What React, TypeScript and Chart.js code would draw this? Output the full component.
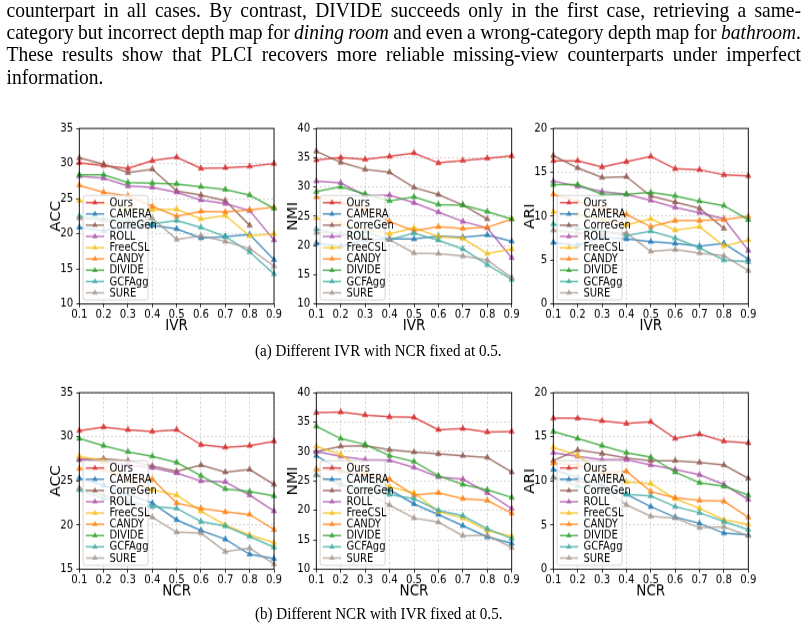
import React, { useEffect, useRef } from "react";
import { Chart, registerables } from "chart.js";

Chart.register(...registerables);

// The page is laid out in unstretched units and then scaled vertically as a whole.
const STRETCH = 1.115;

const RATIOS = ["0.1", "0.2", "0.3", "0.4", "0.5", "0.6", "0.7", "0.8", "0.9"];
const METHODS = ["Ours", "CAMERA", "CorreGen", "ROLL", "FreeCSL", "CANDY", "DIVIDE", "GCFAgg", "SURE"];
const COLORS = [
  "rgba(214,39,40,0.75)",
  "rgba(31,119,180,0.75)",
  "rgba(140,86,75,0.75)",
  "rgba(170,80,170,0.75)",
  "rgba(245,190,20,0.75)",
  "rgba(255,127,14,0.75)",
  "rgba(44,160,44,0.75)",
  "rgba(60,170,160,0.75)",
  "rgba(160,145,135,0.7)",
];

// Rows follow METHODS; columns follow RATIOS. null = no result.
const IVR_ACC = [
  [30.1, 29.7, 29.3, 30.4, 30.9, 29.3, 29.4, 29.6, 30.0],
  [20.9, 20.4, 21.0, 21.2, 20.7, 19.4, 19.6, 19.9, 16.3],
  [30.8, 29.9, 28.7, 29.2, 26.1, 25.5, 24.7, 21.2, null],
  [28.2, 27.9, 26.8, 26.6, 25.9, 24.8, 24.3, 23.3, 19.1],
  [24.7, 24.4, 23.5, 23.4, 23.5, 22.1, 22.6, 19.7, 20.0],
  [26.9, 25.9, 25.4, 23.9, 22.5, 23.2, 23.1, 23.4, 23.8],
  [28.4, 28.4, 27.3, 27.2, 27.1, 26.7, 26.3, 25.5, 23.6],
  [22.5, 22.1, 21.9, 21.4, 21.9, 20.9, 19.6, 17.4, 14.3],
  [22.2, 21.9, 21.5, 22.2, 19.2, 19.7, 18.9, 17.9, 15.4],
];
const IVR_NMI = [
  [34.6, 35.0, 34.7, 35.2, 35.8, 34.1, 34.5, 34.9, 35.3],
  [20.4, 19.9, 21.0, 21.1, 21.1, 21.6, 21.4, 21.8, 20.7],
  [36.1, 34.2, 33.0, 32.5, 29.9, 28.7, 26.9, 24.5, null],
  [31.0, 30.7, 28.5, 28.6, 27.3, 25.7, 24.1, 23.0, 17.9],
  [24.7, 23.8, 22.7, 22.0, 23.0, 21.5, 21.2, 18.6, 19.4],
  [28.3, 27.3, 26.3, 24.1, 22.5, 23.2, 22.9, 23.1, 24.5],
  [29.2, 30.0, 28.8, 27.6, 28.3, 27.0, 26.9, 25.8, 24.5],
  [22.8, 21.9, 22.4, 21.0, 22.1, 20.9, 19.4, 16.7, 14.2],
  [22.2, 22.0, 21.1, 21.0, 18.7, 18.6, 18.2, 17.5, 14.5],
];
const IVR_ARI = [
  [16.3, 16.3, 15.6, 16.2, 16.8, 15.4, 15.3, 14.7, 14.6],
  [7.0, 6.7, 7.6, 7.4, 7.1, 6.9, 6.6, 6.9, 5.1],
  [16.9, 15.5, 14.4, 14.5, 12.3, 11.6, 10.9, 8.6, null],
  [14.0, 13.4, 12.8, 12.5, 11.8, 11.0, 10.4, 9.7, 6.1],
  [10.5, 10.2, 9.6, 9.0, 9.7, 8.4, 8.8, 6.6, 7.3],
  [12.5, 11.7, 10.9, 10.2, 8.8, 9.5, 9.5, 9.6, 10.0],
  [13.6, 13.6, 12.5, 12.5, 12.7, 12.3, 11.7, 11.2, 9.6],
  [9.1, 8.6, 8.4, 7.8, 8.3, 7.5, 6.4, 5.0, 4.8],
  [8.4, 8.1, 8.0, 8.1, 6.0, 6.2, 5.8, 5.5, 3.8],
];
const NCR_ACC = [
  [30.7, 31.1, 30.8, 30.6, 30.8, 29.1, 28.8, 29.0, 29.5],
  [25.3, 24.5, 23.5, 22.5, 20.6, 19.4, 18.4, 16.7, 16.2],
  [27.4, 27.5, 27.3, 26.7, 26.1, 26.8, 26.0, 26.3, 24.6],
  [27.5, 27.2, 26.8, 26.5, 25.9, 25.0, 24.9, 23.4, 21.6],
  [27.8, 27.3, 25.0, 24.0, 23.4, 21.6, 20.0, 18.9, 18.0],
  [26.4, 26.3, 25.2, 25.2, 22.5, 21.9, 21.5, 21.2, 19.5],
  [29.8, 29.0, 28.3, 27.8, 27.1, 25.6, 24.1, 23.8, 23.3],
  [24.0, 23.0, 22.6, 22.1, 21.9, 20.4, 19.9, 18.7, 17.5],
  [24.2, 23.4, 22.4, 20.9, 19.2, 19.1, 17.0, 17.4, 15.6],
];
const NCR_NMI = [
  [36.6, 36.7, 36.2, 35.9, 35.8, 33.7, 33.9, 33.3, 33.4],
  [29.3, 26.8, 25.4, 23.5, 21.1, 19.3, 17.4, 15.5, 14.4],
  [30.0, 30.9, 31.0, 30.3, 29.9, 29.6, 29.3, 29.0, 26.5],
  [30.0, 29.2, 28.6, 28.5, 27.3, 25.7, 25.3, 23.0, 20.3],
  [30.9, 29.5, 26.6, 24.0, 23.0, 19.8, 18.7, 16.6, 15.6],
  [27.0, 26.7, 26.0, 25.3, 22.6, 23.0, 22.0, 21.7, 19.5],
  [34.3, 32.2, 31.2, 29.3, 28.3, 25.9, 24.4, 23.5, 22.2],
  [26.1, 24.3, 23.8, 22.7, 22.0, 20.0, 19.1, 16.9, 15.2],
  [26.0, 24.5, 23.0, 20.9, 18.7, 18.0, 15.7, 15.8, 13.7],
];
const NCR_ARI = [
  [17.1, 17.1, 16.8, 16.5, 16.7, 14.8, 15.3, 14.5, 14.3],
  [11.3, 10.4, 9.5, 8.5, 7.1, 5.9, 5.2, 4.1, 3.9],
  [12.3, 13.5, 13.1, 12.6, 12.3, 12.3, 12.1, 11.8, 10.3],
  [13.2, 12.8, 12.4, 12.4, 11.8, 11.3, 10.7, 9.6, 7.9],
  [13.8, 12.9, 11.0, 9.9, 9.7, 8.0, 6.9, 5.6, 5.1],
  [12.0, 11.8, 10.9, 11.1, 8.8, 8.1, 7.8, 7.7, 5.9],
  [15.6, 14.8, 14.0, 13.2, 12.7, 11.0, 9.8, 9.4, 8.4],
  [10.4, 9.4, 9.0, 8.5, 8.3, 7.1, 6.4, 5.4, 4.5],
  [10.4, 10.0, 9.2, 7.3, 6.0, 5.8, 4.7, 4.8, 3.8],
];

const SANS = "'DejaVu Sans', sans-serif";
const SERIF = "'Liberation Serif', 'Times New Roman', serif";

type PanelSpec = {
  rows: (number | null)[][];
  xTitle: string;
  yTitle: string;
  yMin: number;
  yMax: number;
  left: number;
  right: number;
  top: number;
  bottom: number;
};

const ROW_A = { top: 128, bottom: 304 };
const ROW_B = { top: 392, bottom: 569.3 };
const COLS = [
  { left: 79.3, right: 274 },
  { left: 316.3, right: 511.7 },
  { left: 553.3, right: 748.3 },
];

const PANELS: PanelSpec[] = [
  { rows: IVR_ACC, xTitle: "IVR", yTitle: "ACC", yMin: 10, yMax: 35, ...COLS[0], ...ROW_A },
  { rows: IVR_NMI, xTitle: "IVR", yTitle: "NMI", yMin: 10, yMax: 40, ...COLS[1], ...ROW_A },
  { rows: IVR_ARI, xTitle: "IVR", yTitle: "ARI", yMin: 0, yMax: 20, ...COLS[2], ...ROW_A },
  { rows: NCR_ACC, xTitle: "NCR", yTitle: "ACC", yMin: 15, yMax: 35, ...COLS[0], ...ROW_B },
  { rows: NCR_NMI, xTitle: "NCR", yTitle: "NMI", yMin: 10, yMax: 40, ...COLS[1], ...ROW_B },
  { rows: NCR_ARI, xTitle: "NCR", yTitle: "ARI", yMin: 0, yMax: 20, ...COLS[2], ...ROW_B },
];

const TICK_SIZE = 10.2;
const TITLE_SIZE = 13.5;
const KEY_SIZE = 10;

// Axes frame on all four sides plus a boxed key in the lower-left corner.
const frameAndKey = {
  id: "frameAndKey",
  afterDatasetsDraw(chart: any) {
    const { ctx, chartArea: a } = chart;
    ctx.save();

    const rowH = 10.1;
    const n = chart.data.datasets.length;
    const boxW = 65;
    const boxH = 6.5 * 2 + (n - 1) * rowH;
    const x0 = a.left + 3.8;
    const y0 = a.bottom - 3.6 - boxH;
    ctx.beginPath();
    ctx.roundRect(x0, y0, boxW, boxH, 2.5);
    ctx.fillStyle = "rgba(255,255,255,0.8)";
    ctx.fill();
    ctx.lineWidth = 0.8;
    ctx.strokeStyle = "#cccccc";
    ctx.stroke();

    ctx.font = `${KEY_SIZE}px ${SANS}`;
    ctx.textBaseline = "middle";
    chart.data.datasets.forEach((ds: any, i: number) => {
      const cy = y0 + 6.5 + i * rowH;
      ctx.strokeStyle = ds.borderColor;
      ctx.lineWidth = ds.borderWidth;
      ctx.beginPath();
      ctx.moveTo(x0 + 2.7, cy);
      ctx.lineTo(x0 + 21, cy);
      ctx.stroke();
      const mx = x0 + 11.85;
      const r = 3.2;
      ctx.beginPath();
      ctx.moveTo(mx, cy - r);
      ctx.lineTo(mx + r * Math.sin((2 * Math.PI) / 3), cy - r * Math.cos((2 * Math.PI) / 3));
      ctx.lineTo(mx + r * Math.sin((4 * Math.PI) / 3), cy - r * Math.cos((4 * Math.PI) / 3));
      ctx.closePath();
      ctx.fillStyle = ds.borderColor;
      ctx.fill();
      ctx.fillStyle = "#000";
      ctx.fillText(ds.label, x0 + 26.3, cy + 0.5);
    });

    ctx.strokeStyle = "#000";
    ctx.lineWidth = 0.9;
    ctx.strokeRect(a.left, a.top, a.right - a.left, a.bottom - a.top);
    ctx.restore();
  },
};

function LinePanel({ spec }: { spec: PanelSpec }) {
  const ref = useRef<HTMLCanvasElement>(null);

  const plotT = spec.top / STRETCH;
  const plotB = spec.bottom / STRETCH;
  const canvasLeft = Math.floor(spec.left - 40);
  const canvasTop = Math.floor(plotT - 8);
  const width = Math.ceil(spec.right + 14 - canvasLeft);
  const height = Math.ceil(plotB + 30 - canvasTop);
  const yw = spec.left - canvasLeft;
  const padTop = plotT - canvasTop;
  const padRight = width - (spec.right - canvasLeft);
  const xh = height - (plotB - canvasTop);
  const titleHalf = (TITLE_SIZE * 1.2) / 2;

  useEffect(() => {
    if (!ref.current) return;
    const tickFont = { family: SANS, size: TICK_SIZE };
    const titleFont = { family: SANS, size: TITLE_SIZE, lineHeight: 1.2 };
    const grid = {
      color: "rgba(170,170,170,0.6)",
      lineWidth: 0.8,
      tickColor: "#000",
      tickLength: 3,
      tickWidth: 0.8,
      tickBorderDash: [],
    };
    const chart = new Chart(ref.current, {
      type: "line",
      data: {
        labels: RATIOS,
        datasets: spec.rows.map((row, i) => ({
          label: METHODS[i],
          data: row,
          borderColor: COLORS[i],
          backgroundColor: COLORS[i],
          pointBackgroundColor: COLORS[i],
          pointBorderColor: COLORS[i],
          borderWidth: 1.5,
          pointStyle: "triangle",
          pointRadius: 3.2,
          pointBorderWidth: 0.6,
          tension: 0,
          spanGaps: false,
          fill: false,
          order: -i,
        })),
      },
      options: {
        animation: false,
        responsive: false,
        devicePixelRatio: 1,
        events: [],
        layout: { padding: { top: padTop, right: padRight, left: 0, bottom: 0 } },
        plugins: { legend: { display: false }, tooltip: { enabled: false } },
        scales: {
          x: {
            type: "category",
            offset: false,
            grid,
            border: { display: false, dash: [2, 2] },
            ticks: { font: tickFont, color: "#000", padding: 0.5, autoSkip: false, maxRotation: 0 },
            title: {
              display: true,
              text: spec.xTitle,
              font: titleFont,
              color: "#000",
              padding: { top: 0, bottom: xh - 19.5 - titleHalf },
            },
            afterFit: (s: any) => {
              s.height = xh;
            },
          },
          y: {
            min: spec.yMin,
            max: spec.yMax,
            grid,
            border: { display: false, dash: [2, 2] },
            ticks: { font: tickFont, color: "#000", padding: 3, stepSize: 5 },
            title: {
              display: true,
              text: spec.yTitle,
              font: titleFont,
              color: "#000",
              padding: { top: spec.left - 23 - canvasLeft - titleHalf, bottom: 0 },
            },
            afterFit: (s: any) => {
              s.width = yw;
            },
          },
        },
      },
      plugins: [frameAndKey],
    } as any);
    return () => chart.destroy();
  }, [spec]);

  return (
    <canvas
      ref={ref}
      width={width}
      height={height}
      style={{ position: "absolute", left: canvasLeft, top: canvasTop, width, height }}
    />
  );
}

// Top of a line box whose text baseline should sit at `baseline`.
function lineTop(baseline: number, size: number, lh: number) {
  return baseline - ((lh - 1.107 * size) / 2 + 0.891 * size);
}

const BODY_SIZE = 19.5;
const BODY_LH = 21;
const BODY_BASELINES = [16.7, 39.3, 61, 83.3];
const CAPTION_SIZE = 15.1;

function BodyLine({ i, last, children }: { i: number; last?: boolean; children: React.ReactNode }) {
  return (
    <div
      style={{
        position: "absolute",
        left: 6.5,
        width: 794.5,
        top: lineTop(BODY_BASELINES[i] / STRETCH, BODY_SIZE, BODY_LH),
        fontFamily: SERIF,
        fontSize: BODY_SIZE,
        lineHeight: `${BODY_LH}px`,
        wordSpacing: "-1.5px",
        whiteSpace: "nowrap",
        textAlign: last ? "left" : "justify",
        textAlignLast: last ? "left" : "justify",
        color: "#000",
      }}
    >
      {children}
    </div>
  );
}

function Caption({ baseline, text }: { baseline: number; text: string }) {
  return (
    <div
      style={{
        position: "absolute",
        left: 255,
        top: lineTop(baseline / STRETCH, CAPTION_SIZE, 18),
        fontFamily: SERIF,
        fontSize: CAPTION_SIZE,
        lineHeight: "18px",
        whiteSpace: "nowrap",
        color: "#000",
      }}
    >
      {text}
    </div>
  );
}

export default function App() {
  return (
    <div
      style={{
        position: "fixed",
        left: 0,
        top: 0,
        width: 808,
        height: 635,
        background: "#fff",
        overflow: "hidden",
      }}
    >
      <div
        style={{
          position: "absolute",
          left: 0,
          top: 0,
          width: 808,
          height: 635 / STRETCH,
          transform: `scaleY(${STRETCH})`,
          transformOrigin: "0 0",
        }}
      >
        <BodyLine i={0}>
          counterpart in all cases. By contrast, DIVIDE succeeds only in the first case, retrieving a same-
        </BodyLine>
        <BodyLine i={1}>
          category but incorrect depth map for <i>dining room</i> and even a wrong-category depth map for{" "}
          <i>bathroom</i>.
        </BodyLine>
        <BodyLine i={2}>
          These results show that PLCI recovers more reliable missing-view counterparts under imperfect
        </BodyLine>
        <BodyLine i={3} last>
          information.
        </BodyLine>

        {PANELS.map((p, i) => (
          <LinePanel key={i} spec={p} />
        ))}

        <Caption baseline={356.3} text="(a) Different IVR with NCR fixed at 0.5." />
        <Caption baseline={619} text="(b) Different NCR with IVR fixed at 0.5." />
      </div>
    </div>
  );
}
